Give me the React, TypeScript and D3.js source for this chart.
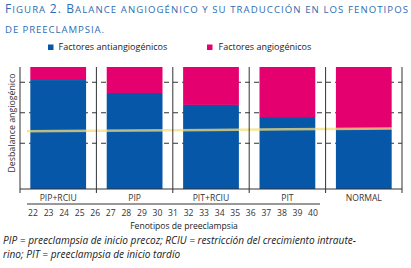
import React from "react";
import * as d3 from "d3";

const categories = ["PIP+RCIU", "PIP", "PIT+RCIU", "PIT", "NORMAL"];
const antiValues = [89.3, 78.7, 68.9, 59.0, 49.2];
const totalValues = [100, 100, 100, 100, 100];
const balanceLine = [47.5, 47.9, 48.4, 48.9, 49.4];
const gridTicks = [37.5, 62.5, 87.5];
const weeks = d3.range(22, 41);

const W = 411, H = 268;
const BLUE = "#0657a8";
const PINK = "#e5006f";
const TITLE = "#2d6db4";
const FONT = "'Open Sans', sans-serif";

export default function App() {
  const left = 20, right = 402, top = 67, bottom = 189;
  const x = d3.scaleBand<string>().domain(categories).range([left, right]).paddingInner(0.27).paddingOuter(0.135);
  const y = d3.scaleLinear().domain([0, 100]).range([bottom, top]);
  const bw = x.bandwidth();
  const step = x.step();
  const xw = d3.scaleLinear().domain([22, 40]).range([33, 313]);
  const seps = categories.map((c) => (x(c) as number) - (step - bw) / 2).concat([right]);

  const pts: [number, number][] = categories.map((c, i) => [(x(c) as number) + bw / 2, balanceLine[i]]);
  const first = pts[0], last = pts[pts.length - 1];
  const slope = (last[1] - first[1]) / (last[0] - first[0]);
  const linePts: [number, number][] = [
    [27, first[1] + slope * (27 - first[0])],
    ...pts,
    [392, last[1] + slope * (392 - last[0])],
  ];
  const line = d3.line<[number, number]>().x((d) => d[0]).y((d) => y(d[1]));

  return (
    <div style={{ position: "fixed", left: 0, top: 0, width: W, height: H, background: "#fff" }}>
      <svg width={W} height={H} style={{ display: "block" }}>
        <text x={5} y={13} fill={TITLE} fontFamily={FONT} textLength={403} lengthAdjust="spacing">
          <tspan fontSize={12}>F</tspan>
          <tspan fontSize={9.6}>IGURA </tspan>
          <tspan fontSize={12}>2. B</tspan>
          <tspan fontSize={9.6}>ALANCE ANGIOGÉNICO Y SU TRADUCCIÓN EN LOS FENOTIPOS</tspan>
        </text>
        <text x={5} y={33} fill={TITLE} fontFamily={FONT} fontSize={9.6} textLength={99} lengthAdjust="spacing">
          DE PREECLAMPSIA.
        </text>

        <rect x={48} y={44.5} width={5.5} height={5.5} fill={BLUE} />
        <text x={58.5} y={50} fontFamily={FONT} fontSize={9} fill="#222">Factores antiangiogénicos</text>
        <rect x={207} y={44.5} width={5.5} height={5.5} fill={PINK} />
        <text x={218.5} y={50} fontFamily={FONT} fontSize={9} fill="#222">Factores angiogénicos</text>

        {gridTicks.map((t) => (
          <line key={t} x1={left} x2={right} y1={y(t)} y2={y(t)} stroke="#333" strokeWidth={1} strokeDasharray="5,4" />
        ))}

        {categories.map((c, i) => (
          <g key={c}>
            <rect x={x(c)} y={y(totalValues[i])} width={bw} height={y(antiValues[i]) - y(totalValues[i])} fill={PINK} />
            <rect x={x(c)} y={y(antiValues[i])} width={bw} height={bottom - y(antiValues[i])} fill={BLUE} />
          </g>
        ))}

        <path d={line(linePts) || ""} fill="none" stroke="#f4df7c" strokeOpacity={0.75} strokeWidth={2.5} />

        {seps.map((s, i) => (
          <line key={i} x1={s} x2={s} y1={top} y2={bottom + 4} stroke="#333" strokeWidth={1} />
        ))}
        <line x1={left} x2={right} y1={bottom} y2={bottom} stroke="#333" strokeWidth={1} />

        {categories.map((c) => (
          <text key={c} x={(x(c) as number) + bw / 2} y={200.5} textAnchor="middle" fontFamily={FONT} fontSize={8.6} fill="#333">
            {c}
          </text>
        ))}
        <line x1={27} x2={320} y1={204} y2={204} stroke="#333" strokeWidth={1} />
        {weeks.map((w) => (
          <text key={w} x={xw(w)} y={216} textAnchor="middle" fontFamily={FONT} fontSize={8.6} fill="#333">
            {w}
          </text>
        ))}
        <text x={184} y={229} textAnchor="middle" fontFamily={FONT} fontSize={8.6} fill="#222">Fenotipos de preeclampsia</text>
        <text transform={`translate(14.5,${123}) rotate(-90)`} textAnchor="middle" fontFamily={FONT} fontSize={8.8} fill="#333">
          Desbalance angiogénico
        </text>

        <text x={3} y={243.5} fontFamily={FONT} fontStyle="italic" fontSize={10.1} fill="#222">
          PIP = preeclampsia de inicio precoz; RCIU = restricción del crecimiento intraute-
        </text>
        <text x={3} y={257.5} fontFamily={FONT} fontStyle="italic" fontSize={10.1} fill="#222">
          rino; PIT = preeclampsia de inicio tardío
        </text>
      </svg>
    </div>
  );
}
